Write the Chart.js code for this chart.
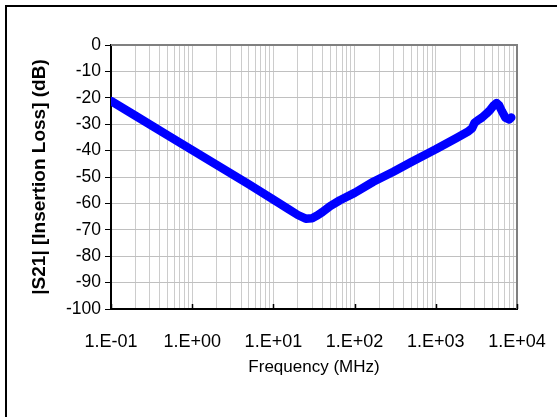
<!DOCTYPE html>
<html>
<head>
<meta charset="utf-8">
<script src="https://cdn.jsdelivr.net/npm/chart.js@4.4.1/dist/chart.umd.min.js"></script>
<style>
  html, body { margin: 0; padding: 0; background: #fff; }
  canvas { display: block; }
</style>
</head>
<body>
<canvas id="c" width="557" height="417"></canvas>
<script>
// ---- Data ----
const freqMHz = [0.1, 0.2, 0.5, 1, 2, 5, 10, 15, 20, 25, 30, 35, 40, 50, 66, 100, 170, 300, 500, 1000, 1800, 2500, 2800, 3000, 3300, 3700, 4200, 4700, 5200, 5600, 6000, 6500, 7200, 8000, 8500];
const s21dB   = [-21.2, -26.8, -34.2, -39.8, -45.4, -52.8, -58.6, -62.0, -64.4, -65.8, -65.6, -64.5, -63.3, -61.0, -58.8, -56.0, -51.8, -48.0, -44.3, -39.5, -35.2, -32.8, -31.5, -29.5, -28.5, -27.5, -26.0, -24.5, -22.8, -22.0, -22.8, -25.0, -27.5, -28.2, -27.5];
const xDecades = [0.1, 1, 10, 100, 1000, 10000];
const yTicks = [0, -10, -20, -30, -40, -50, -60, -70, -80, -90, -100];
const xTitle = 'Frequency (MHz)';
const yTitle = '|S21| [Insertion Loss] (dB)';

const FONT = "'Liberation Sans', Arial, sans-serif";

function decadeLabel(v) {
  const e = Math.round(Math.log10(v));
  if (Math.abs(Math.log10(v) - e) > 1e-9) return '';
  const a = Math.abs(e);
  return '1.E' + (e < 0 ? '-' : '+') + (a < 10 ? '0' : '') + a;
}

const framePlugin = {
  id: 'frame',
  beforeDraw(chart) {
    const ctx = chart.ctx;
    ctx.save();
    ctx.fillStyle = '#fff';
    ctx.fillRect(0, 0, chart.width, chart.height);
    ctx.strokeStyle = '#000';
    ctx.lineWidth = 2;
    ctx.strokeRect(6, 6, 700, 700);
    ctx.restore();
  },
  afterDraw(chart) {
    const ctx = chart.ctx;
    const a = chart.chartArea;
    const xs = chart.scales.x;
    ctx.save();
    ctx.strokeStyle = '#808080';
    ctx.lineWidth = 2;
    ctx.beginPath();
    ctx.moveTo(a.left, a.top);
    ctx.lineTo(a.right, a.top);
    ctx.lineTo(a.right, a.bottom);
    ctx.stroke();
    // inside tick marks on the x axis at decades
    ctx.strokeStyle = '#000';
    ctx.lineWidth = 1.5;
    ctx.beginPath();
    xDecades.forEach(v => {
      const px = Math.round(xs.getPixelForValue(v)) + 0.5;
      ctx.moveTo(px, a.bottom);
      ctx.lineTo(px, a.bottom - 5);
    });
    ctx.stroke();
    ctx.restore();
  }
};

new Chart(document.getElementById('c'), {
  type: 'line',
  data: {
    datasets: [{
      data: freqMHz.map((f, i) => ({ x: f, y: s21dB[i] })),
      borderColor: '#0000ff',
      borderWidth: 8.5,
      borderCapStyle: 'round',
      borderJoinStyle: 'round',
      pointRadius: 0,
      tension: 0,
      fill: false
    }]
  },
  options: {
    responsive: false,
    animation: false,
    devicePixelRatio: 1,
    layout: { padding: { left: 0, top: 45, right: 40, bottom: 0 } },
    plugins: { legend: { display: false }, tooltip: { enabled: false } },
    scales: {
      x: {
        type: 'logarithmic',
        min: 0.1,
        max: 10000,
        afterBuildTicks(scale) {
          const t = [];
          xDecades.forEach((d, i) => {
            if (i === xDecades.length - 1) { t.push({ value: d }); return; }
            for (let m = 1; m <= 9; m++) t.push({ value: +(m * d).toPrecision(6) });
          });
          scale.ticks = t;
        },
        afterFit(scale) { scale.height = 108; scale.paddingLeft = 0; scale.paddingRight = 0; },
        grid: { color: '#cccccc', lineWidth: 1, drawTicks: false },
        border: { display: true, color: '#000', width: 2 },
        ticks: {
          autoSkip: false,
          maxRotation: 0,
          padding: 22,
          color: '#000',
          font: { family: FONT, size: 18 },
          callback: (v) => decadeLabel(v)
        },
        title: {
          display: true,
          text: xTitle,
          color: '#000',
          font: { family: FONT, size: 17 },
          padding: { top: 0, bottom: 39 }
        }
      },
      y: {
        type: 'linear',
        min: -100,
        max: 0,
        afterBuildTicks(scale) { scale.ticks = yTicks.map(v => ({ value: v })); },
        afterFit(scale) { scale.width = 111; scale.paddingTop = 0; scale.paddingBottom = 0; },
        grid: { color: '#c0c0c0', lineWidth: 1, drawTicks: true, tickLength: 6, tickColor: '#000' },
        border: { display: true, color: '#000', width: 2 },
        ticks: {
          padding: 4,
          color: '#000',
          font: { family: FONT, size: 17.5 }
        },
        title: {
          display: true,
          text: yTitle,
          color: '#000',
          font: { family: FONT, size: 19, weight: 'bold' },
          padding: { top: 28, bottom: 0 }
        }
      }
    }
  },
  plugins: [framePlugin]
});
</script>
</body>
</html>
